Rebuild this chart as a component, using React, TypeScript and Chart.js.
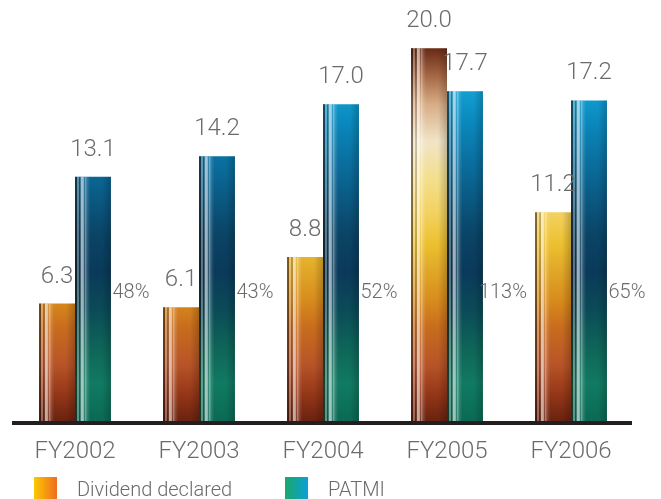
import { useEffect, useRef } from 'react';
import { Chart, registerables } from 'chart.js';

Chart.register(...registerables);

// ---- data ----
const years = ['FY2002', 'FY2003', 'FY2004', 'FY2005', 'FY2006'];
const dividendDeclared = [6.3, 6.1, 8.8, 20.0, 11.2];
const patmi = [13.1, 14.2, 17.0, 17.7, 17.2];
const payoutRatio = [48, 43, 52, 113, 65];
const seriesNames = ['Dividend declared', 'PATMI'];
const yMax = 22;

// ---- styling ----
const FONT = 'Roboto, "Noto Sans", sans-serif';
const TEXT = '#6b6b6b';

// colour stops keyed by axis value (0 = baseline)
const dividendStops: [number, string][] = [
  [0, '#6a2210'],
  [1.5, '#963818'],
  [3, '#b65428'],
  [5, '#c86c1e'],
  [6.5, '#d88c1c'],
  [8, '#e0a628'],
  [9.5, '#ecc030'],
  [11, '#f2d05c'],
  [13, '#f3df8e'],
  [15, '#f1e4c6'],
  [17, '#d6ad86'],
  [18.5, '#a66846'],
  [20, '#682a14'],
];
const patmiStops: [number, string][] = [
  [0, '#0a6a54'],
  [2, '#117a62'],
  [4, '#0e6458'],
  [6, '#0b4a58'],
  [8, '#0a3a5a'],
  [10, '#0a4466'],
  [12, '#0a5a84'],
  [14, '#0a70a0'],
  [16, '#0a88bc'],
  [18, '#14a2d6'],
];

// light/dark vertical streaks laid across each bar, left to right
const streakStops: [number, string][] = [
  [0, 'rgba(30,15,10,0.55)'],
  [0.05, 'rgba(30,15,10,0.55)'],
  [0.055, 'rgba(255,255,255,0.3)'],
  [0.11, 'rgba(255,255,255,0.3)'],
  [0.115, 'rgba(0,0,0,0.15)'],
  [0.15, 'rgba(0,0,0,0.15)'],
  [0.155, 'rgba(255,255,255,0.6)'],
  [0.23, 'rgba(255,255,255,0.6)'],
  [0.26, 'rgba(255,255,255,0.12)'],
  [0.29, 'rgba(255,255,255,0.4)'],
  [0.34, 'rgba(255,255,255,0.15)'],
  [0.42, 'rgba(255,255,255,0)'],
  [0.75, 'rgba(0,0,0,0)'],
  [1, 'rgba(0,0,0,0.2)'],
];

function valueGradient(chart: any, stops: [number, string][], fallback: string) {
  const y = chart.scales?.y;
  if (!chart.chartArea || !y) return fallback;
  const top = stops[stops.length - 1][0];
  const g = chart.ctx.createLinearGradient(0, y.getPixelForValue(0), 0, y.getPixelForValue(top));
  stops.forEach(([v, c]) => g.addColorStop(v / top, c));
  return g;
}

const streakPlugin = {
  id: 'barStreaks',
  afterDatasetsDraw(chart: any) {
    const ctx = chart.ctx;
    chart.data.datasets.forEach((_: any, di: number) => {
      const meta = chart.getDatasetMeta(di);
      meta.data.forEach((el: any) => {
        const { x, y, base, width } = el.getProps(['x', 'y', 'base', 'width'], true);
        const left = x - width / 2;
        const g = ctx.createLinearGradient(left, 0, left + width, 0);
        streakStops.forEach(([p, c]) => g.addColorStop(p, c));
        ctx.save();
        ctx.fillStyle = g;
        ctx.fillRect(left, y, width, base - y);
        ctx.restore();
      });
    });
  },
};

const annotatePlugin = {
  id: 'annotate',
  afterDraw(chart: any) {
    const ctx = chart.ctx;
    const { chartArea, scales } = chart;
    const yScale = scales.y;
    const baseY = yScale.getPixelForValue(0);

    ctx.save();
    // baseline
    ctx.fillStyle = '#231f20';
    ctx.fillRect(chartArea.left - 1, baseY, chartArea.right - chartArea.left, 4);

    // values above bars
    ctx.fillStyle = TEXT;
    ctx.textAlign = 'center';
    ctx.textBaseline = 'middle';
    ctx.font = `300 24px ${FONT}`;
    chart.data.datasets.forEach((ds: any, di: number) => {
      const meta = chart.getDatasetMeta(di);
      meta.data.forEach((el: any, i: number) => {
        ctx.fillText(Number(ds.data[i]).toFixed(1), el.x, el.y - 27);
      });
    });

    // payout ratio beside each PATMI bar
    ctx.font = `300 20px ${FONT}`;
    const pMeta = chart.getDatasetMeta(1);
    pMeta.data.forEach((el: any, i: number) => {
      const right = el.x + el.width / 2;
      ctx.fillText(`${payoutRatio[i]}%`, right + 20, yScale.getPixelForValue(6.85));
    });

    // legend
    const legendY = 477;
    const items = [
      { x: 34, text: seriesNames[0], from: '#fbc800', to: '#f06c20' },
      { x: 285, text: seriesNames[1], from: '#1aa86a', to: '#0aa0d6' },
    ];
    ctx.textAlign = 'left';
    ctx.font = `300 20px ${FONT}`;
    items.forEach((it) => {
      const g = ctx.createLinearGradient(it.x, 0, it.x + 23, 0);
      g.addColorStop(0, it.from);
      g.addColorStop(1, it.to);
      ctx.fillStyle = g;
      ctx.fillRect(it.x, legendY, 23, 22);
      ctx.fillStyle = TEXT;
      ctx.fillText(it.text, it.x + 43, legendY + 14);
    });
    ctx.restore();
  },
};

export default function App() {
  const ref = useRef<HTMLCanvasElement>(null);

  useEffect(() => {
    if (!ref.current) return;
    const chart = new Chart(ref.current, {
      type: 'bar',
      data: {
        labels: years,
        datasets: [
          {
            label: seriesNames[0],
            data: dividendDeclared,
            backgroundColor: (c: any) => valueGradient(c.chart, dividendStops, '#d08a20'),
            borderWidth: 0,
            categoryPercentage: 0.58,
            barPercentage: 1,
          },
          {
            label: seriesNames[1],
            data: patmi,
            backgroundColor: (c: any) => valueGradient(c.chart, patmiStops, '#0a5a84'),
            borderWidth: 0,
            categoryPercentage: 0.58,
            barPercentage: 1,
          },
        ],
      },
      options: {
        responsive: false,
        animation: false,
        layout: { padding: { left: 13, right: 28, top: 11, bottom: 0 } },
        plugins: {
          legend: { display: false },
          tooltip: { enabled: false },
        },
        scales: {
          x: {
            grid: { display: false, drawTicks: false },
            border: { display: false },
            ticks: {
              color: TEXT,
              font: { family: FONT, size: 24, weight: '300' as any },
              padding: 17,
              maxRotation: 0,
            },
            afterFit: (s: any) => {
              s.height = 78;
            },
          },
          y: { display: false, min: 0, max: yMax },
        },
      },
      plugins: [streakPlugin, annotatePlugin],
    });
    return () => chart.destroy();
  }, []);

  return (
    <div style={{ position: 'fixed', left: 0, top: 0, width: 661, height: 499, background: '#fff' }}>
      <canvas ref={ref} width={661} height={499} style={{ display: 'block' }} />
    </div>
  );
}
